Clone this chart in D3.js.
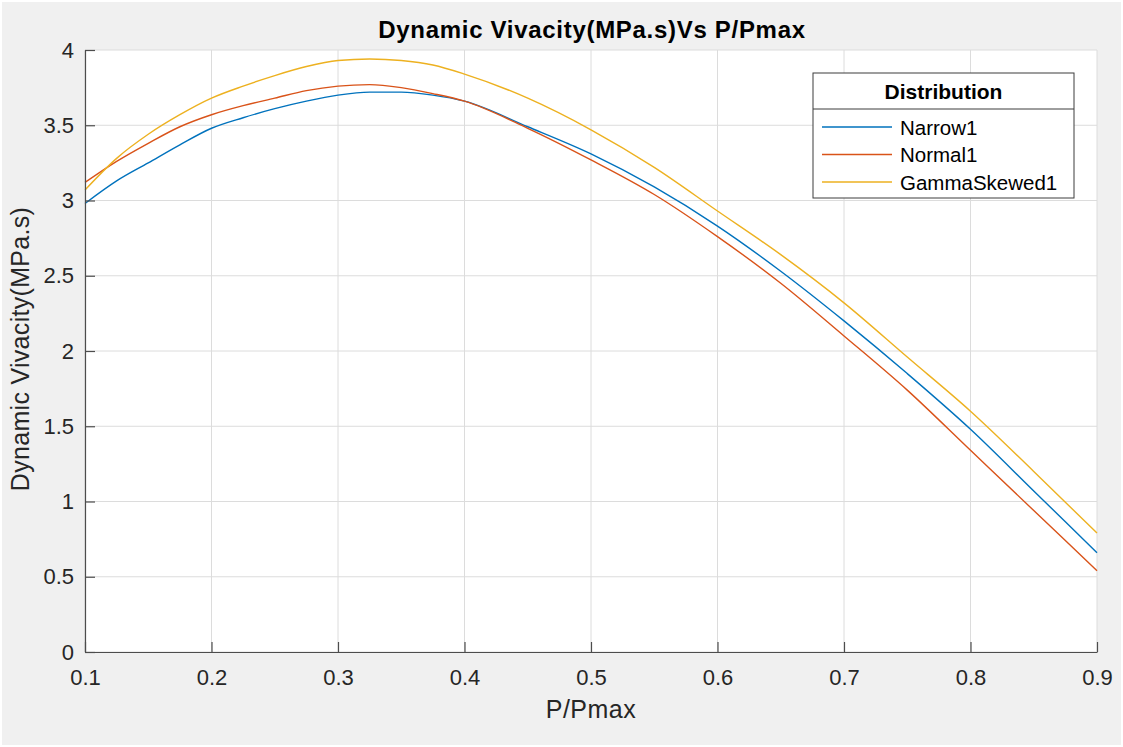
<!DOCTYPE html>
<html>
<head>
<meta charset="utf-8">
<script src="https://cdn.jsdelivr.net/npm/d3@7"></script>
<style>
  body { margin: 0; background: #fff; }
  svg { display: block; font-family: "Liberation Sans", Arial, sans-serif; }
</style>
</head>
<body>
<svg width="1123" height="747"></svg>
<script>
// P/Pmax sample points
var pRatio = [0.1, 0.125, 0.15, 0.175, 0.2, 0.225, 0.25, 0.275, 0.3, 0.325, 0.35, 0.375, 0.4,
              0.45, 0.5, 0.55, 0.6, 0.65, 0.7, 0.75, 0.8, 0.85, 0.9];

var narrow1 = [2.98, 3.13, 3.25, 3.37, 3.48, 3.55, 3.61, 3.66, 3.70, 3.72, 3.72, 3.70, 3.66,
               3.49, 3.31, 3.09, 2.83, 2.53, 2.20, 1.85, 1.48, 1.07, 0.66];
var normal1 = [3.12, 3.26, 3.38, 3.49, 3.57, 3.63, 3.68, 3.73, 3.76, 3.77, 3.75, 3.71, 3.66,
               3.48, 3.27, 3.04, 2.76, 2.45, 2.10, 1.74, 1.34, 0.94, 0.54];
var gammaSkewed1 = [3.07, 3.28, 3.44, 3.57, 3.68, 3.76, 3.83, 3.89, 3.93, 3.94, 3.93, 3.90, 3.84,
                    3.68, 3.47, 3.22, 2.93, 2.64, 2.32, 1.96, 1.60, 1.20, 0.79];

var seriesNames = ["Narrow1", "Normal1", "GammaSkewed1"];
var xTicks = [0.1, 0.2, 0.3, 0.4, 0.5, 0.6, 0.7, 0.8, 0.9];
var yTicks = [0, 0.5, 1, 1.5, 2, 2.5, 3, 3.5, 4];

var colors = ["#0072bd", "#d95319", "#edb120"];
var seriesValues = [narrow1, normal1, gammaSkewed1];

var svg = d3.select("svg"),
    W = +svg.attr("width"),
    H = +svg.attr("height"),
    margin = {top: 50, right: 26, bottom: 95, left: 85},
    width = W - margin.left - margin.right,
    height = H - margin.top - margin.bottom;

// figure background with thin white frame
svg.append("rect").attr("width", W).attr("height", H).attr("fill", "#fff");
svg.append("rect").attr("x", 2).attr("y", 2).attr("width", W - 4).attr("height", H - 4).attr("fill", "#f0f0f0");

var g = svg.append("g").attr("transform", "translate(" + margin.left + "," + margin.top + ")");

var x = d3.scaleLinear().domain([0.1, 0.9]).range([0, width]);
var y = d3.scaleLinear().domain([0, 4]).range([height, 0]);

g.append("rect").attr("width", width).attr("height", height).attr("fill", "#fff");

// grid
g.append("g").selectAll("line").data(xTicks).enter().append("line")
    .attr("x1", function(d) { return x(d); }).attr("x2", function(d) { return x(d); })
    .attr("y1", 0).attr("y2", height)
    .attr("stroke", "#dcdcdc").attr("stroke-width", 1);
g.append("g").selectAll("line").data(yTicks).enter().append("line")
    .attr("y1", function(d) { return y(d); }).attr("y2", function(d) { return y(d); })
    .attr("x1", 0).attr("x2", width)
    .attr("stroke", "#dcdcdc").attr("stroke-width", 1);

// lines
var line = d3.line()
    .x(function(d) { return x(d[0]); })
    .y(function(d) { return y(d[1]); })
    .curve(d3.curveMonotoneX);

seriesValues.forEach(function(vals, i) {
  g.append("path")
    .datum(pRatio.map(function(p, j) { return [p, vals[j]]; }))
    .attr("fill", "none")
    .attr("stroke", colors[i])
    .attr("stroke-width", 1.4)
    .attr("d", line);
});

// axes (ticks inward)
var xAxis = g.append("g")
    .attr("transform", "translate(0," + height + ")")
    .call(d3.axisBottom(x).tickValues(xTicks).tickSizeInner(-10).tickSizeOuter(0).tickPadding(17)
      .tickFormat(d3.format(".1f")));
var yAxis = g.append("g")
    .call(d3.axisLeft(y).tickValues(yTicks).tickSizeInner(-10).tickSizeOuter(0).tickPadding(11)
      .tickFormat(function(d) { return d3.format("")(d); }));

[xAxis, yAxis].forEach(function(a) {
  a.select(".domain").attr("stroke", "#4d4d4d").attr("stroke-width", 1.2);
  a.selectAll(".tick line").attr("stroke", "#4d4d4d").attr("stroke-width", 1.2);
  a.selectAll(".tick text").attr("fill", "#262626").style("font-size", "22px")
    .style("font-family", "'Liberation Sans', Arial, sans-serif");
});
xAxis.selectAll(".tick text").attr("dy", "0.71em");

// title and labels
svg.append("text")
    .attr("x", margin.left + width / 2 + 1).attr("y", 38)
    .attr("text-anchor", "middle")
    .attr("font-weight", "bold").attr("font-size", "24px").attr("fill", "#000")
    .attr("letter-spacing", "0.7px")
    .text("Dynamic Vivacity(MPa.s)Vs P/Pmax");

svg.append("text")
    .attr("x", margin.left + width / 2).attr("y", 718)
    .attr("text-anchor", "middle")
    .attr("font-size", "25px").attr("fill", "#262626")
    .attr("letter-spacing", "0.5px")
    .text("P/Pmax");

svg.append("text")
    .attr("transform", "translate(29,349) rotate(-90)")
    .attr("text-anchor", "middle")
    .attr("font-size", "25px").attr("fill", "#262626")
    .attr("letter-spacing", "0.3px")
    .text("Dynamic Vivacity(MPa.s)");

// legend
var lg = svg.append("g").attr("transform", "translate(813,73)");
lg.append("rect").attr("width", 261).attr("height", 125)
    .attr("fill", "#fff").attr("stroke", "#3c3c3c").attr("stroke-width", 1);
lg.append("line").attr("x1", 0).attr("x2", 261).attr("y1", 36).attr("y2", 36)
    .attr("stroke", "#3c3c3c").attr("stroke-width", 1);
lg.append("text").attr("x", 130.5).attr("y", 26)
    .attr("text-anchor", "middle").attr("font-weight", "bold").attr("font-size", "21px")
    .attr("fill", "#000").text("Distribution");

var entries = lg.selectAll(".entry").data(seriesNames).enter().append("g")
    .attr("class", "entry")
    .attr("transform", function(d, i) { return "translate(0," + (54 + i * 27.5) + ")"; });
entries.append("line").attr("x1", 9).attr("x2", 79).attr("y1", 0).attr("y2", 0)
    .attr("stroke", function(d, i) { return colors[i]; }).attr("stroke-width", 1.3);
entries.append("text").attr("x", 87).attr("y", 7.5)
    .attr("font-size", "20.5px").attr("fill", "#000").text(function(d) { return d; });
</script>
</body>
</html>
